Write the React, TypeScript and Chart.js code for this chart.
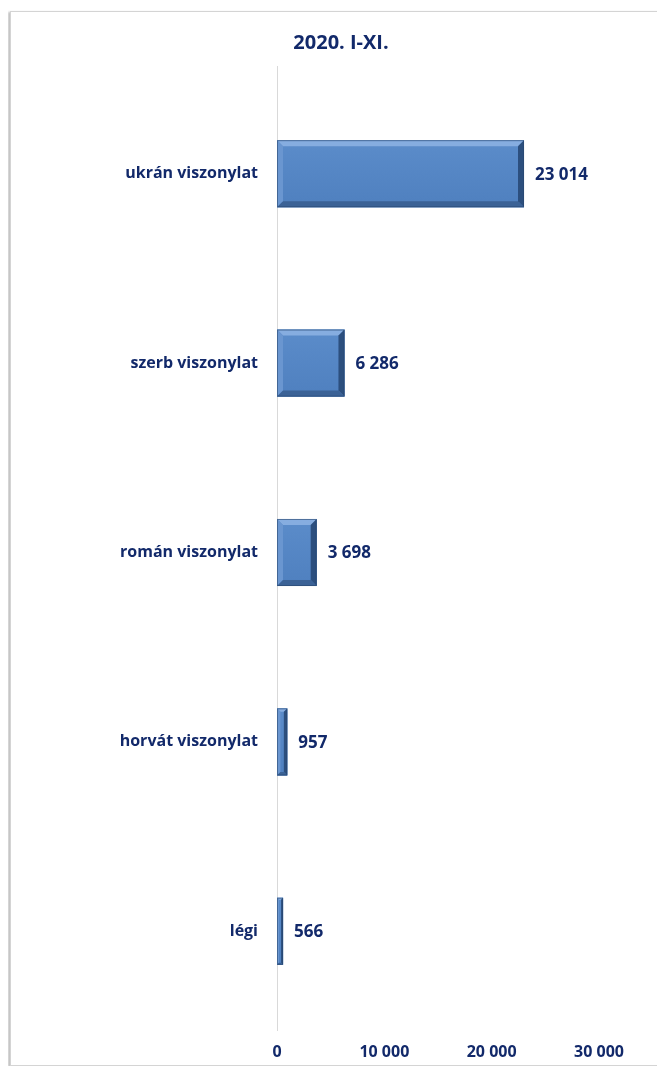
import React, { useEffect, useRef } from "react";
import { Chart, registerables } from "chart.js";

Chart.register(...registerables);

const title = "2020. I-XI.";
const categories = ["ukrán viszonylat", "szerb viszonylat", "román viszonylat", "horvát viszonylat", "légi"];
const values = [23014, 6286, 3698, 957, 566];
const xTickValues = [0, 10000, 20000, 30000];

const NAVY = "#12296a";
const FONT = "'Open Sans', sans-serif";

function fmt(n: number): string {
  return String(Math.round(n)).replace(/\B(?=(\d{3})+(?!\d))/g, " ");
}

const bevelPlugin = {
  id: "bevel",
  beforeDatasetsDraw(chart: any) {
    const ctx = chart.ctx;
    const a = chart.chartArea;
    const x0 = Math.round(a.left) + 0.5;
    ctx.save();
    ctx.strokeStyle = "#d9d9d9";
    ctx.lineWidth = 1;
    ctx.beginPath();
    ctx.moveTo(x0, a.top - 13);
    ctx.lineTo(x0, a.bottom + 5);
    ctx.stroke();
    ctx.restore();
  },
  afterDatasetsDraw(chart: any) {
    const ctx = chart.ctx;
    const meta = chart.getDatasetMeta(0);
    meta.data.forEach((bar: any, i: number) => {
      const { x, y, base, height } = bar.getProps(["x", "y", "base", "height"], true);
      const l = Math.min(base, x);
      const r = Math.max(base, x);
      const t = y - height / 2;
      const b = y + height / 2;
      const w = r - l;
      const bv = Math.max(1.5, Math.min(6, w / 3, height / 3));
      ctx.save();
      const g = ctx.createLinearGradient(0, t, 0, b);
      g.addColorStop(0, "#5b8cca");
      g.addColorStop(1, "#4f80bf");
      ctx.fillStyle = g;
      ctx.fillRect(l, t, w, height);
      const poly = (pts: number[][], color: string) => {
        ctx.beginPath();
        ctx.moveTo(pts[0][0], pts[0][1]);
        for (let k = 1; k < pts.length; k++) ctx.lineTo(pts[k][0], pts[k][1]);
        ctx.closePath();
        ctx.fillStyle = color;
        ctx.fill();
      };
      poly([[l, t], [r, t], [r - bv, t + bv], [l + bv, t + bv]], "#86ade0");
      poly([[l, t], [l + bv, t + bv], [l + bv, b - bv], [l, b]], "#6a96d0");
      poly([[r, t], [r, b], [r - bv, b - bv], [r - bv, t + bv]], "#2c4f7e");
      poly([[l, b], [l + bv, b - bv], [r - bv, b - bv], [r, b]], "#3b6296");
      ctx.strokeStyle = "rgba(40,70,110,0.6)";
      ctx.lineWidth = 1;
      ctx.strokeRect(l + 0.5, t + 0.5, w - 1, height - 1);
      ctx.fillStyle = NAVY;
      ctx.font = `bold 17px ${FONT}`;
      ctx.textAlign = "left";
      ctx.textBaseline = "middle";
      ctx.fillText(fmt(values[i]), r + 11, y + 1);
      ctx.restore();
    });
  },
  afterDraw(chart: any) {
    const ctx = chart.ctx;
    ctx.save();
    ctx.fillStyle = NAVY;
    ctx.font = `bold 20px ${FONT}`;
    ctx.textAlign = "center";
    ctx.textBaseline = "middle";
    ctx.fillText(title, 330, 31);
    ctx.restore();
  },
};

export default function App() {
  const ref = useRef<HTMLCanvasElement>(null);
  useEffect(() => {
    if (!ref.current) return;
    const chart = new Chart(ref.current, {
      type: "bar",
      data: {
        labels: categories,
        datasets: [
          {
            data: values,
            backgroundColor: "#5585c5",
            borderWidth: 0,
            barPercentage: 0.354,
            categoryPercentage: 1,
          },
        ],
      },
      plugins: [bevelPlugin],
      options: {
        indexAxis: "y",
        animation: false,
        responsive: false,
        layout: { padding: { top: 67, left: 0, right: 62, bottom: 0 } },
        plugins: {
          legend: { display: false },
          tooltip: { enabled: false },
          title: { display: false },
        },
        scales: {
          x: {
            min: 0,
            max: 30000,
            afterBuildTicks: (s: any) => {
              s.ticks = xTickValues.map((v) => ({ value: v }));
            },
            afterFit: (s: any) => {
              s.height = 39;
            },
            grid: { display: false, drawTicks: false },
            border: { display: false },
            ticks: {
              padding: 17,
              color: NAVY,
              font: { family: FONT, size: 16, weight: "bold" },
              maxRotation: 0,
              callback: (v: any) => fmt(Number(v)),
            },
          },
          y: {
            afterFit: (s: any) => {
              s.width = 266;
            },
            grid: { display: false, drawTicks: false },
            border: { display: false },
            ticks: {
              padding: 19,
              color: NAVY,
              font: { family: FONT, size: 16, weight: "bold" },
            },
          },
        },
      },
    } as any);
    return () => chart.destroy();
  }, []);
  return (
    <div
      style={{
        marginLeft: 2,
        marginTop: 3,
        width: 652,
        height: 1055,
        boxSizing: "border-box",
        border: "1px solid #d4d4d4",
        boxShadow: "-2px 1px 2px #c4c4c4, 0 2px 2px #c8c8c8",
        background: "#fff",
      }}
    >
      <canvas ref={ref} width={650} height={1053} style={{ display: "block" }} />
    </div>
  );
}
